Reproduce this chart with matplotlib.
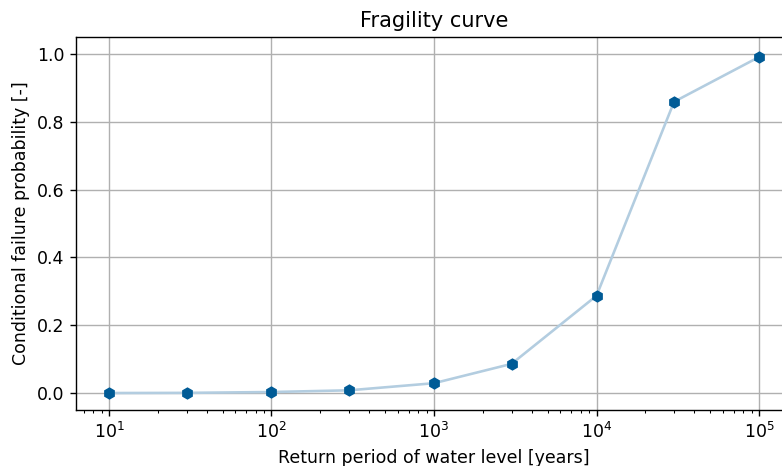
import numpy as np
import matplotlib
matplotlib.use("Agg")
import matplotlib.pyplot as plt

# Wiederkehrperiode und bedingte Versagenswahrscheinlichkeit
return_period = [10, 30, 100, 300, 1000, 3000, 10000, 30000, 100000]
fail_prob = [0.0, 0.0005, 0.003, 0.008, 0.029, 0.086, 0.287, 0.859, 0.991]

DPI = 125
fig, ax = plt.subplots(figsize=(782 / DPI, 466 / DPI), dpi=DPI)
# rechter Rand liegt ausserhalb des Bildes (wie im Original abgeschnitten)
fig.subplots_adjust(left=0.0978, right=1.0122, top=0.9206, bottom=0.1202)

ax.plot(return_period, fail_prob, "-", color="#b3cde0", linewidth=1.5, zorder=2)
ax.plot(return_period, fail_prob, "h", color="#005b96", markersize=6, zorder=3)
ax.set_xscale("log")
ax.set_ylim(-0.05, 1.05)
ax.set_xlabel("Return period of water level [years]")
ax.set_ylabel("Conditional failure probability [-]")
ax.set_title("Fragility curve")
ax.grid(True)

fig.savefig("out.png", dpi=DPI)
